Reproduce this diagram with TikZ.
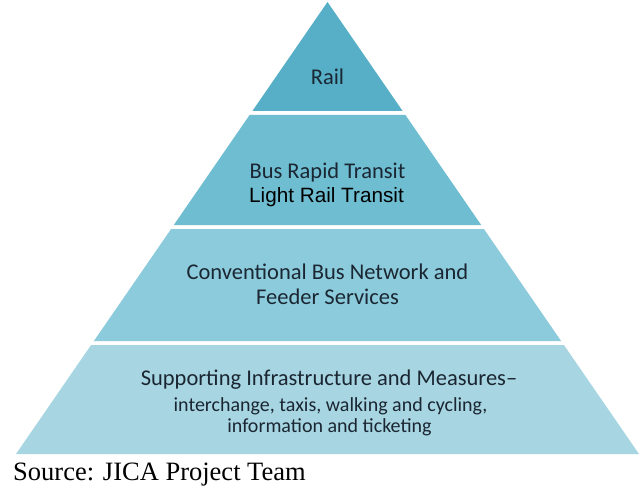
\documentclass[tikz,border=0pt]{standalone}
\usepackage{fontspec}
\setmainfont{Carlito}
\newfontfamily\arialf{Liberation Sans}
\newfontfamily\timesf{Liberation Serif}
\definecolor{tierA}{HTML}{56AFC6}
\definecolor{tierB}{HTML}{6FBDD1}
\definecolor{tierC}{HTML}{8CCBDB}
\definecolor{tierD}{HTML}{A7D6E2}
\definecolor{txt}{HTML}{1A2632}
\begin{document}
\begin{tikzpicture}[x=1pt,y=-1pt,
  lbl/.style={inner sep=0pt,text=txt,anchor=center},
  big/.style={lbl,font=\fontsize{22.5}{25}\selectfont},
  small/.style={lbl,font=\fontsize{20}{22}\selectfont}]
\useasboundingbox[fill=white] (0,0) rectangle (639,492);
\fill[tierA] (327.5,2) -- (402.6,111) -- (252.4,111) -- cycle;
\fill[tierB] (249.6,115) -- (405.4,115) -- (481.2,225) -- (173.8,225) -- cycle;
\fill[tierC] (171.1,229) -- (483.9,229) -- (561.1,341) -- (93.9,341) -- cycle;
\fill[tierD] (91.1,345) -- (563.9,345) -- (639,454) -- (16,454) -- cycle;
\node[big] (rail) at (327.5,77) {Rail};
\node[big] (brt) at (327.5,173) {Bus Rapid Transit};
\node[lbl,text=black,font=\arialf\fontsize{20.7}{23}\selectfont] (lrt) at (326.5,197) {Light Rail Transit};
\node[big] (conv) at (327.5,272) {Conventional Bus Network and};
\node[big] (feed) at (327.5,297) {Feeder Services};
\node[big] (supp) at (329,380) {Supporting Infrastructure and Measures–};
\node[small] (inter) at (330.5,406) {interchange, taxis, walking and cycling,};
\node[small] (info) at (329.5,427) {information and ticketing};
\node[inner sep=0pt,anchor=west,text=black,font=\timesf\fontsize{26.5}{30}\selectfont] (src) at (13,475) {Source: JICA Project Team};
\end{tikzpicture}
\end{document}
